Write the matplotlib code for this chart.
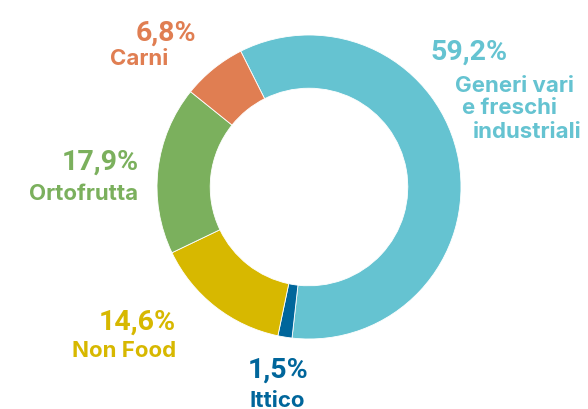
## Library Imports
import matplotlib
matplotlib.use("Agg")
import matplotlib.pyplot as plt

## Data (clockwise from the top-left boundary)
categories = ["Generi vari\ne freschi\nindustriali", "Ittico", "Non Food", "Ortofrutta", "Carni"]
shares = [59.2, 1.5, 14.6, 17.9, 6.8]
pct_labels = ["59,2%", "1,5%", "14,6%", "17,9%", "6,8%"]
colors = ["#65C3D1", "#00669B", "#D7B800", "#7BB05D", "#E07E52"]

## Layout in pixel units (y measured from the top)
W, H = 588, 410
center_px = (309, 188)
radius_px = 152
# (x, baseline y, alignment) for percentage and for category text
pct_pos = [(430, 60, "left"), (248, 378, "left"), (176, 330, "right"), (139, 170, "right"), (196, 41, "right")]
cat_pos = [[(455, 92), (462, 114), (473, 138)], [(249, 407)], [(176, 357)], [(138, 200)], [(168, 65)]]
cat_align = ["left", "left", "right", "right", "right"]

plt.rcParams['font.family'] = ['Inter', 'DejaVu Sans']

fig = plt.figure(figsize=(W/100, H/100), dpi=100)
ax = fig.add_axes([0, 0, 1, 1])

ax.pie(shares, colors=colors, startangle=116.7, counterclock=False,
       center=(center_px[0], H - center_px[1]), radius=radius_px,
       wedgeprops=dict(width=radius_px*0.35, edgecolor="white", linewidth=0.6))
ax.set_xlim(0, W)
ax.set_ylim(0, H)
ax.set_aspect("equal")
ax.axis("off")

for i in range(len(shares)):
	x, y, ha = pct_pos[i]
	ax.text(x, H - y, pct_labels[i], color=colors[i], fontsize=20.5, fontweight="bold",
	        family=["Roboto", "DejaVu Sans"], ha=ha, va="baseline")
	lines = categories[i].split("\n")
	for line, (lx, ly) in zip(lines, cat_pos[i]):
		ax.text(lx, H - ly, line, color=colors[i], fontsize=16, fontweight="bold", ha=cat_align[i], va="baseline")

fig.savefig("out.png", dpi=100)
